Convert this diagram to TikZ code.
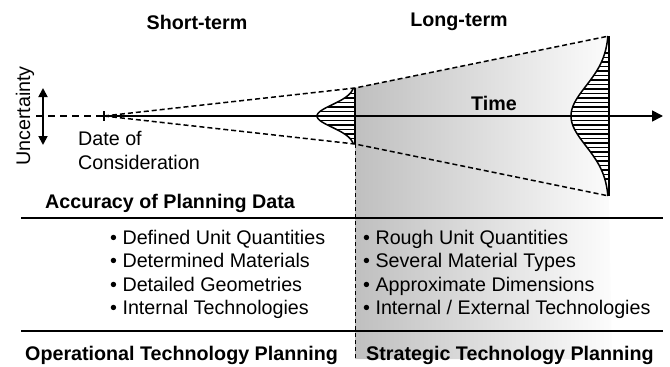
\documentclass[tikz,border=0pt]{standalone}
\usepackage{fontspec}
\setmainfont{Liberation Sans}
\usetikzlibrary{arrows.meta}
\begin{document}
\begin{tikzpicture}[x=1pt,y=-1pt,
  lbl/.style={inner sep=0pt, font=\fontsize{19.7}{23.5}\selectfont},
  bld/.style={inner sep=0pt, font=\fontsize{19.7}{23.5}\selectfont\bfseries},
  dsh/.style={line width=1.5pt, dash pattern=on 5pt off 3pt},
  rulel/.style={line width=1.9pt},
  hatch/.style={line width=1.4pt}]
\useasboundingbox (0,0) rectangle (670,367);
\coordinate (O) at (104,116);
\coordinate (S1) at (355,88);
\coordinate (S2) at (355,144);
\coordinate (L1) at (609,36);
\coordinate (L2) at (609,196);
\coordinate (E) at (663,116);
\coordinate (A0) at (36,116);
\coordinate (SB) at (355,359);
% shaded long-term region
\shade[left color=black!25, right color=black!1]
  (S1) -- (L1) -- (L2) -- (612,359) -- (SB) -- cycle;
% big bell (white background + hatching)
\fill[white] plot[domain=36:196,samples=90] ({609-38*exp(-((\x-116)^2)/1800)},\x) -- cycle;
\foreach \k in {-14,...,14} {
  \pgfmathsetmacro\yy{116+4.5*\k}
  \pgfmathsetmacro\xx{609-38*exp(-((\yy-116)^2)/1800)}
  \draw[hatch] (\xx,\yy) -- (609,\yy);
}
\draw[line width=1.5pt] plot[domain=36:196,samples=90] ({609-38*exp(-((\x-116)^2)/1800)},\x);
% small bell
\foreach \k in {-5,...,5} {
  \pgfmathsetmacro\yy{116+4.5*\k}
  \pgfmathsetmacro\xx{355-38*exp(-((\yy-116)^2)/250)}
  \draw[hatch] (\xx,\yy) -- (355,\yy);
}
\draw[line width=1.5pt] plot[domain=88:144,samples=60] ({355-38*exp(-((\x-116)^2)/250)},\x);
% vertical bases
\draw[line width=1.8pt] (S1) -- (S2);
\draw[line width=1.8pt] (L1) -- (L2);
% cone
\draw[dsh] (O) -- (S1) -- (L1);
\draw[dsh] (O) -- (S2) -- (L2);
\draw[line width=1pt, dash pattern=on 4pt off 3pt] (S2) -- (SB);
% time axis
\draw[line width=1.7pt, dash pattern=on 7pt off 5pt] (A0) -- (O);
\draw[line width=1.7pt, -{Triangle[length=11pt,width=11pt]}] (O) -- (E);
\draw[line width=1.6pt] (104,111) -- (104,121);
% uncertainty arrow
\coordinate (U1) at (43,88);
\coordinate (U2) at (43,145);
\draw[line width=1.8pt, {Triangle[length=9pt,width=9pt]}-{Triangle[length=9pt,width=9pt]}] (U1) -- (U2);
% table rules
\coordinate (R1a) at (21,218); \coordinate (R1b) at (663,218);
\coordinate (R2a) at (21,331); \coordinate (R2b) at (663,331);
\draw[rulel] (R1a) -- (R1b);
\draw[rulel] (R2a) -- (R2b);
% texts
\node[bld] (st) at (197,22) {Short-term};
\node[bld] (lt) at (459,22) {Long-term};
\node[bld] (time) at (494,103) {Time};
\node[lbl, rotate=90] (unc) at (25,116) {Uncertainty};
\node[lbl, anchor=west, align=left] (date) at (78,150.5) {Date of\\Consideration};
\node[bld] (acc) at (170,203) {Accuracy of Planning Data};
\node[lbl, anchor=west, align=left] (ll) at (110,274.5)
  {\textbullet\ Defined Unit Quantities\\
   \textbullet\ Determined Materials\\
   \textbullet\ Detailed Geometries\\
   \textbullet\ Internal Technologies};
\node[lbl, anchor=west, align=left] (rl) at (363,274.5)
  {\textbullet\ Rough Unit Quantities\\
   \textbullet\ Several Material Types\\
   \textbullet\ Approximate Dimensions\\
   \textbullet\ Internal / External Technologies};
\node[bld, anchor=west] (op) at (25,355) {Operational Technology Planning};
\node[bld, anchor=west] (sp) at (366,355) {Strategic Technology Planning};
\end{tikzpicture}
\end{document}
